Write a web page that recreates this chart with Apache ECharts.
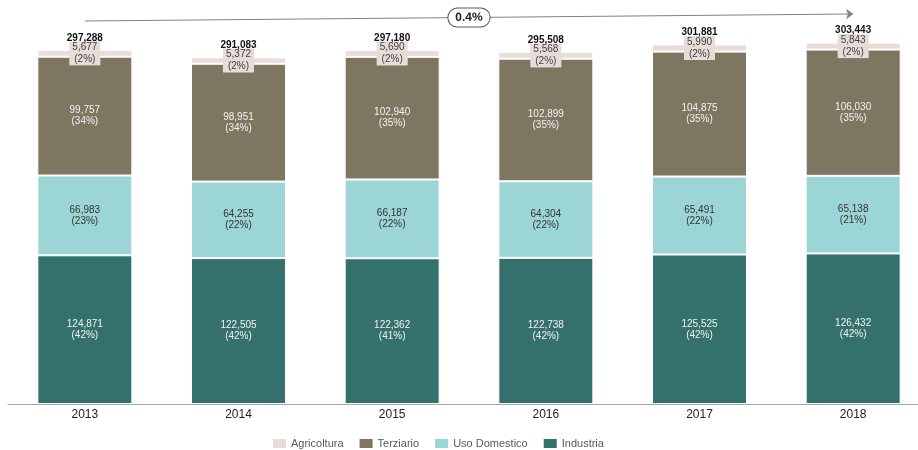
<!DOCTYPE html>
<html>
<head>
<meta charset="utf-8">
<script src="https://cdn.jsdelivr.net/npm/echarts@6/dist/echarts.min.js"></script>
<style>html,body{margin:0;padding:0;background:#fff}#c{width:918px;height:450px}</style>
</head>
<body>
<div id="c"></div>
<script>
const years = ['2013', '2014', '2015', '2016', '2017', '2018'];
const industria = [124871, 122505, 122362, 122738, 125525, 126432];
const usoDomestico = [66983, 64255, 66187, 64304, 65491, 65138];
const terziario = [99757, 98951, 102940, 102899, 104875, 106030];
const agricoltura = [5677, 5372, 5690, 5568, 5990, 5843];
const totals = [297288, 291083, 297180, 295508, 301881, 303443];
const growthLabel = '0.4%';
const arrowStart = 321600;
const arrowEnd = 327500;

const fmt = v => v.toLocaleString('en-US');
const pct = (arr, i) => Math.round(arr[i] / totals[i] * 100) + '%';
const FONT = 'Liberation Sans, Arial, sans-serif';

function mkSeries(name, data, color, labelColor, extraLabel) {
  return {
    name: name, type: 'bar', stack: 'tot', data: data, barWidth: 95,
    itemStyle: { color: color, borderColor: '#ffffff', borderWidth: 1 },
    label: Object.assign({
      show: true, position: 'inside', color: labelColor, fontFamily: FONT,
      fontSize: 10, lineHeight: 11,
      formatter: p => fmt(data[p.dataIndex]) + '\n(' + pct(data, p.dataIndex) + ')'
    }, extraLabel || {})
  };
}

const chart = echarts.init(document.getElementById('c'));
chart.setOption({
  animation: false,
  textStyle: { fontFamily: FONT },
  grid: { left: 8, width: 922, top: 11, bottom: 46, outerBoundsMode: 'none', containLabel: false },
  xAxis: {
    type: 'category', data: years,
    axisLine: { lineStyle: { color: '#a6a6a6', width: 1 } },
    axisTick: { show: false },
    axisLabel: { color: '#222', fontSize: 12, fontFamily: FONT, margin: 5 }
  },
  yAxis: { type: 'value', min: 0, max: 330000, show: false, splitLine: { show: false } },
  legend: {
    data: ['Agricoltura', 'Terziario', 'Uso Domestico', 'Industria'],
    left: 268, top: 433, itemWidth: 13, itemHeight: 9, itemGap: 16, icon: 'rect',
    itemStyle: { borderWidth: 0 },
    textStyle: { color: '#595959', fontSize: 11, fontFamily: FONT }
  },
  series: [
    mkSeries('Industria', industria, '#35716c', '#f2f2f2'),
    mkSeries('Uso Domestico', usoDomestico, '#9cd5d5', '#333333'),
    mkSeries('Terziario', terziario, '#7f7662', '#f2f2f2'),
    mkSeries('Agricoltura', agricoltura, '#e8dcd8', '#404040', {
      backgroundColor: '#e8dcd8', padding: [0, 3, 0, 3], lineHeight: 12
    }),
    {
      name: 'Totale', type: 'bar', stack: 'tot', barWidth: 95,
      data: totals.map(() => 0),
      itemStyle: { color: 'transparent' },
      label: {
        show: true, position: 'top', distance: 7, color: '#111', fontWeight: 'bold',
        fontSize: 10, fontFamily: FONT,
        formatter: p => fmt(totals[p.dataIndex])
      },
      markLine: {
        silent: true, symbol: ['none', 'arrow'], symbolSize: [8, 7],
        lineStyle: { color: '#808080', width: 1, type: 'solid' },
        label: {
          show: true, position: 'middle', formatter: growthLabel,
          color: '#222', fontWeight: 'bold', fontSize: 12, fontFamily: FONT,
          backgroundColor: '#fff', borderColor: '#595959', borderWidth: 1,
          borderRadius: 11, padding: [3, 7, 3, 7], distance: 0,
          verticalAlign: 'middle'
        },
        data: [[{ coord: ['2013', arrowStart] }, { coord: ['2018', arrowEnd] }]]
      }
    }
  ]
});
</script>
</body>
</html>
